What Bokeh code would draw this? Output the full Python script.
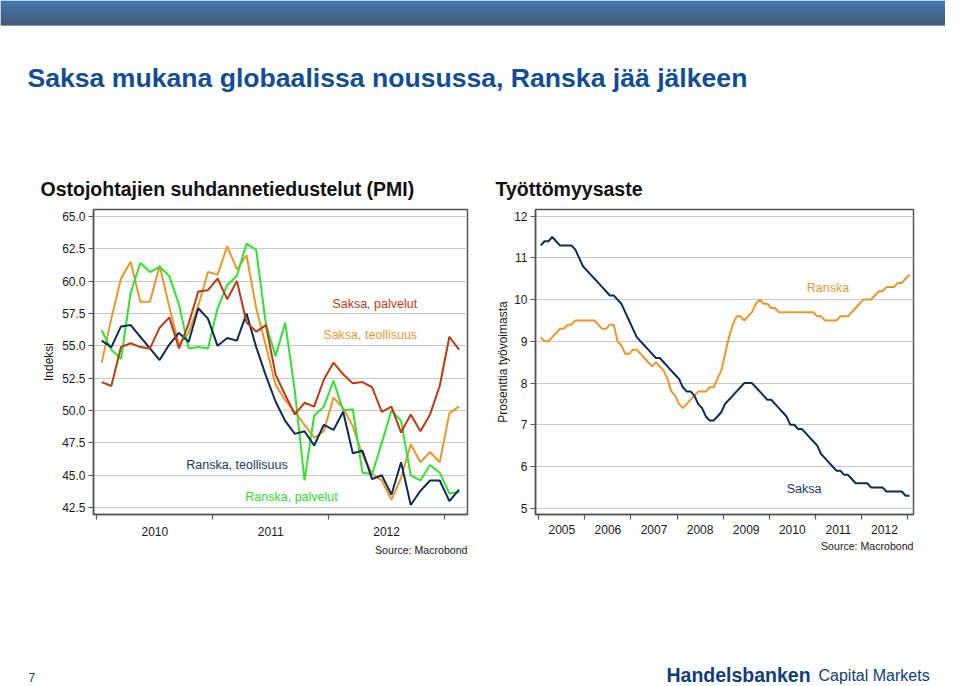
from bokeh.plotting import figure
from bokeh.layouts import column, row
from bokeh.models import Range1d, FixedTicker, Label, Title, NumeralTickFormatter
from bokeh.embed import file_html
from bokeh.resources import INLINE

# ---------------- data ----------------
# Purchasing managers' indices, monthly Jan 2010 - Feb 2013
pmi_start_year = 2010
pmi_years = [2010, 2011, 2012]
pmi_ticks = [42.5, 45.0, 47.5, 50.0, 52.5, 55.0, 57.5, 60.0, 62.5, 65.0]
de_services = [52.2, 51.9, 54.9, 55.2, 54.9, 54.8, 56.4, 57.2, 54.8, 56.7,
               59.2, 59.3, 60.2, 58.6, 60.0, 56.8, 56.1, 56.6, 52.8, 51.2,
               49.7, 50.6, 50.3, 52.4, 53.7, 52.8, 52.1, 52.2, 51.8, 49.9,
               50.3, 48.3, 49.7, 48.4, 49.7, 51.9, 55.7, 54.7]
de_manufacturing = [53.7, 57.1, 60.2, 61.5, 58.4, 58.4, 61.2, 58.0, 55.1, 56.0,
                    58.1, 60.7, 60.5, 62.7, 60.9, 62.0, 57.9, 55.0, 52.0, 50.8,
                    49.9, 48.9, 47.9, 48.4, 51.0, 50.2, 48.8, 46.6, 45.1, 44.6,
                    43.1, 44.8, 47.4, 46.0, 46.8, 46.0, 49.8, 50.3]
fr_manufacturing = [55.4, 54.9, 56.5, 56.6, 55.7, 54.8, 53.9, 55.1, 56.0, 55.3,
                    57.9, 57.1, 55.0, 55.6, 55.4, 57.5, 54.9, 52.7, 50.7, 49.2,
                    48.2, 48.4, 47.3, 48.9, 48.5, 49.9, 46.7, 46.9, 44.7, 45.0,
                    43.5, 46.0, 42.7, 43.8, 44.6, 44.6, 43.0, 43.9]
fr_services = [56.2, 54.7, 54.0, 59.1, 61.4, 60.7, 61.1, 60.4, 58.2, 54.8,
               54.9, 54.8, 57.9, 59.7, 60.4, 62.9, 62.4, 56.7, 54.2, 56.8,
               51.5, 44.6, 49.6, 50.3, 52.3, 50.0, 50.1, 45.2, 45.1, 47.5,
               50.0, 49.2, 45.0, 44.6, 45.8, 45.2, 43.6, 43.7]

# Unemployment rate, monthly Jan 2005 - Jan 2013
unemp_start_year = 2005
unemp_years = [2005, 2006, 2007, 2008, 2009, 2010, 2011, 2012]
unemp_ticks = [5, 6, 7, 8, 9, 10, 11, 12]
unemp_de = [11.3, 11.4, 11.4, 11.5, 11.4, 11.3, 11.3, 11.3, 11.3, 11.2,
            11.0, 10.8, 10.7, 10.6, 10.5, 10.4, 10.3, 10.2, 10.1, 10.1,
            10.0, 9.9, 9.7, 9.5, 9.3, 9.1, 9.0, 8.9, 8.8, 8.7,
            8.6, 8.6, 8.5, 8.4, 8.3, 8.2, 8.1, 7.9, 7.8, 7.8,
            7.7, 7.5, 7.4, 7.2, 7.1, 7.1, 7.2, 7.3, 7.5, 7.6,
            7.7, 7.8, 7.9, 8.0, 8.0, 8.0, 7.9, 7.8, 7.7, 7.6,
            7.6, 7.5, 7.4, 7.3, 7.2, 7.0, 7.0, 6.9, 6.9, 6.8,
            6.7, 6.6, 6.5, 6.3, 6.2, 6.1, 6.0, 5.9, 5.9, 5.8,
            5.8, 5.7, 5.6, 5.6, 5.6, 5.6, 5.5, 5.5, 5.5, 5.5,
            5.4, 5.4, 5.4, 5.4, 5.4, 5.3, 5.3]
unemp_fr = [9.1, 9.0, 9.0, 9.1, 9.2, 9.3, 9.3, 9.4, 9.4, 9.5,
            9.5, 9.5, 9.5, 9.5, 9.5, 9.4, 9.3, 9.3, 9.4, 9.4,
            9.0, 8.9, 8.7, 8.7, 8.8, 8.8, 8.7, 8.6, 8.5, 8.4,
            8.5, 8.4, 8.3, 8.1, 7.8, 7.7, 7.5, 7.4, 7.5, 7.6,
            7.7, 7.8, 7.8, 7.8, 7.9, 7.9, 8.1, 8.3, 8.7, 9.1,
            9.4, 9.6, 9.6, 9.5, 9.6, 9.7, 9.9, 10.0, 9.9, 9.9,
            9.8, 9.8, 9.7, 9.7, 9.7, 9.7, 9.7, 9.7, 9.7, 9.7,
            9.7, 9.7, 9.6, 9.6, 9.5, 9.5, 9.5, 9.5, 9.6, 9.6,
            9.6, 9.7, 9.8, 9.9, 10.0, 10.0, 10.0, 10.1, 10.2, 10.2,
            10.3, 10.3, 10.3, 10.4, 10.4, 10.5, 10.6]

# ---------------- styling ----------------
NAVY = "#0c2b56"
RED = "#b83c16"
ORANGE = "#e8962e"
GREEN = "#35e035"
FONT = "Liberation Sans"
W = 945
TOP_H = 205
ROW_H = 360
FOOT_H = 121


def month_x(start_year, n):
    return [start_year + (i + 0.5) / 12.0 for i in range(n)]


def style_chart(p, years, yticks, yfmt=None, x_standoff=6, src_standoff=3):
    p.xaxis.ticker = FixedTicker(ticks=[y + 0.5 for y in years],
                                 minor_ticks=[y for y in years] + [years[-1] + 1])
    p.xaxis.major_label_overrides = {y + 0.5: str(y) for y in years}
    p.xaxis.major_tick_line_color = None
    p.xaxis.minor_tick_line_color = "#555555"
    p.xaxis.minor_tick_line_width = 1.2
    p.xaxis.minor_tick_in = 0
    p.xaxis.minor_tick_out = 5
    p.xaxis.major_label_standoff = x_standoff
    p.yaxis.ticker = FixedTicker(ticks=yticks)
    if yfmt:
        p.yaxis.formatter = NumeralTickFormatter(format=yfmt)
    p.yaxis.minor_tick_line_color = None
    p.yaxis.major_tick_in = 0
    p.yaxis.major_tick_out = 5
    p.yaxis.major_tick_line_color = "#555555"
    p.yaxis.major_label_standoff = 3
    for ax in (p.xaxis[0], p.yaxis[0]):
        ax.axis_line_color = "#555555"
        ax.axis_line_width = 1.5
        ax.major_label_text_font = FONT
        ax.major_label_text_font_size = "12px"
        ax.major_label_text_color = "#1a1a1a"
        ax.axis_label_text_font = FONT
        ax.axis_label_text_font_size = "12px"
        ax.axis_label_text_font_style = "normal"
        ax.axis_label_text_color = "#1a1a1a"
    p.yaxis.axis_label_standoff = 3
    p.xgrid.visible = False
    p.ygrid.ticker = FixedTicker(ticks=yticks)
    p.ygrid.grid_line_color = "#c8c8c8"
    p.ygrid.grid_line_width = 1
    p.outline_line_color = "#555555"
    p.outline_line_width = 1.5
    p.background_fill_color = "white"
    p.border_fill_color = "white"
    src = Title(text="Source: Macrobond", align="right", text_font=FONT,
                text_font_size="10.6px", text_font_style="normal",
                text_color="#1a1a1a", standoff=src_standoff)
    p.add_layout(src, "below")


def note(p, x, y, text, color, size="12.5px", bold=False, align="left"):
    p.add_layout(Label(x=x, y=y, text=text, text_color=color, text_font=FONT,
                       text_font_size=size, text_baseline="middle",
                       text_font_style="bold" if bold else "normal",
                       text_align=align))


def blank(height):
    f = figure(width=W, height=height, x_range=Range1d(0, W), y_range=Range1d(height, 0),
               x_axis_type=None, y_axis_type=None, toolbar_location=None,
               output_backend="svg", min_border=0)
    f.outline_line_color = None
    f.grid.visible = False
    f.border_fill_color = "white"
    f.background_fill_color = "white"
    return f


# ---------------- top band (header, titles) ----------------
top = blank(TOP_H)
c0 = (5, 76, 152)
c1 = (9, 40, 76)
n_str = 25
for k in range(n_str):
    t = k / (n_str - 1)
    col = "#%02x%02x%02x" % tuple(int(round(a + (b - a) * t)) for a, b in zip(c0, c1))
    top.quad(left=0, right=W + 20, top=k, bottom=k + 1, fill_color=col, line_color=None)

note(top, 27, 77, "Saksa mukana globaalissa nousussa, Ranska jää jälkeen",
     "#124d91", size="26.6px", bold=True)
note(top, 40, 188, "Ostojohtajien suhdannetiedustelut (PMI)", "#111111",
     size="19.5px", bold=True)
note(top, 495, 188, "Työttömyysaste", "#111111", size="19.5px", bold=True)

# ---------------- left chart: PMI ----------------
pl = figure(width=485, height=ROW_H, x_range=Range1d(2009.971, 2013.198),
            y_range=Range1d(41.97, 65.53), toolbar_location=None, output_backend="svg",
            min_border_left=93, min_border_right=18, min_border_top=4, min_border_bottom=45)
style_chart(pl, pmi_years, pmi_ticks, "0.0", x_standoff=6, src_standoff=7)
pl.yaxis.axis_label = "Indeksi"
xp = month_x(pmi_start_year, len(de_services))
pl.line(xp, de_manufacturing, line_color=ORANGE, line_width=2)
pl.line(xp, fr_services, line_color=GREEN, line_width=2)
pl.line(xp, fr_manufacturing, line_color=NAVY, line_width=2)
pl.line(xp, de_services, line_color=RED, line_width=2)
note(pl, 2012.032, 58.26, "Saksa, palvelut", RED)
note(pl, 2011.954, 55.83, "Saksa, teollisuus", "#e39a3a")
note(pl, 2010.771, 45.83, "Ranska, teollisuus", "#1b3a68")
note(pl, 2011.281, 43.33, "Ranska, palvelut", "#2fd82f")

# ---------------- right chart: unemployment ----------------
pr = figure(width=W - 485, height=ROW_H, x_range=Range1d(2004.928, 2013.13),
            y_range=Range1d(4.85, 12.16), toolbar_location=None, output_backend="svg",
            min_border_left=50, min_border_right=W - 485 - 50 - 378,
            min_border_top=4, min_border_bottom=51)
style_chart(pr, unemp_years, unemp_ticks, x_standoff=4, src_standoff=3)
pr.yaxis.axis_label = "Prosenttia työvoimasta"
pr.yaxis.axis_label_standoff = 1
xu = month_x(unemp_start_year, len(unemp_de))
pr.line(xu, unemp_fr, line_color=ORANGE, line_width=2)
pr.line(xu, unemp_de, line_color=NAVY, line_width=2)
note(pr, 2010.813, 10.27, "Ranska", "#e39a3a")
note(pr, 2010.379, 5.45, "Saksa", "#1b3a68")

# ---------------- footer ----------------
foot = blank(FOOT_H)
note(foot, 28, 112, "7", "#123c7a", size="12px")
note(foot, 666, 109, "Handelsbanken", "#123c7a", size="19.5px", bold=True)
note(foot, 818, 110, "Capital Markets", "#123c7a", size="16px")

layout = column(top, row(pl, pr, spacing=0), foot, spacing=0)

with open("out.html", "w") as f:
    f.write(file_html(layout, INLINE))
